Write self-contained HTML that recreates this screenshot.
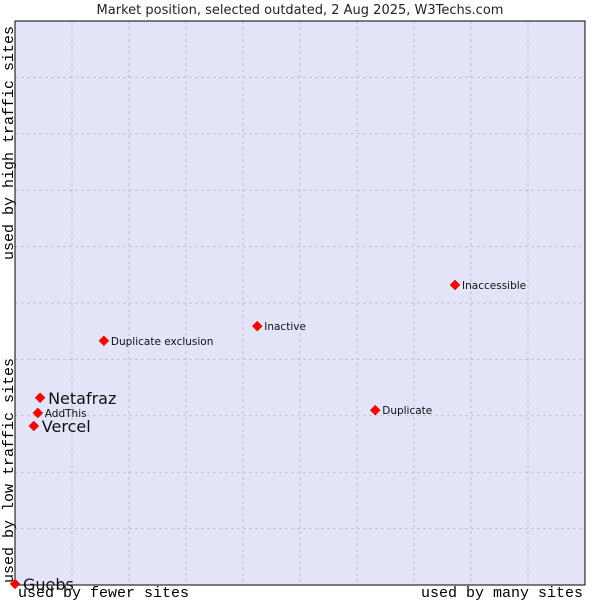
<!DOCTYPE html>
<html><head><meta charset="utf-8"><style>
body{margin:0;background:#fff}
svg text{font-family:"DejaVu Sans","Liberation Sans",sans-serif}
.mono{font-family:"Liberation Mono","DejaVu Sans Mono",monospace}
</style></head><body>
<svg id="c" width="600" height="600" xmlns="http://www.w3.org/2000/svg">
<text x="300" y="14" text-anchor="middle" font-size="13" fill="#222">Market position, selected outdated, 2 Aug 2025, W3Techs.com</text>
<rect x="15" y="21" width="570" height="564" fill="#e3e4f8"/>
<g id="grid"></g>
<path d="M15,21V585H585V21H15" fill="none" stroke="#000" stroke-width="1"/>
<text class="mono" x="18" y="597" font-size="15" fill="#000">used by fewer sites</text>
<text class="mono" x="583" y="597" font-size="15" fill="#000" text-anchor="end">used by many sites</text>
<text class="mono" transform="translate(13,583) rotate(-90)" font-size="15" fill="#000">used by low traffic sites</text>
<text class="mono" transform="translate(13,260) rotate(-90)" font-size="15" fill="#000">used by high traffic sites</text>
<g id="pts"></g>
</svg>
<script>
const names=["Guebs","Vercel","AddThis","Netafraz","Duplicate exclusion","Inactive","Duplicate","Inaccessible"];
const xVals=[0,3.3,4.0,4.4,15.6,42.5,63.2,77.2];
const yVals=[0.2,28.2,30.5,33.2,43.3,45.9,31.0,53.2];
const bigLabel=[true,true,false,true,false,false,false,false];
const NS="http://www.w3.org/2000/svg";
const X=v=>15+v*5.7, Y=v=>585-v*5.64;
const grid=document.getElementById('grid');
for(let i=1;i<10;i++){
 const l=document.createElementNS(NS,'line');
 
 
 l.setAttribute('x1',X(i*10));l.setAttribute('x2',X(i*10));l.setAttribute('y1',21);l.setAttribute('y2',585);
 l.setAttribute('stroke','#c0c0c8');l.setAttribute('stroke-dasharray','3,3');grid.appendChild(l);
 const h=document.createElementNS(NS,'line');
 
 
 h.setAttribute('y1',Y(i*10));h.setAttribute('y2',Y(i*10));h.setAttribute('x1',15);h.setAttribute('x2',585);
 h.setAttribute('stroke','#c0c0c8');h.setAttribute('stroke-dasharray','3,3');grid.appendChild(h);
}
const pts=document.getElementById('pts');
names.forEach((n,i)=>{
 const x=X(xVals[i]),y=Y(yVals[i]);
 const p=document.createElementNS(NS,'path');
 
 
 p.setAttribute('d',`M${x-5},${y}L${x},${y-5}L${x+5},${y}L${x},${y+5}Z`);
 p.setAttribute('fill','#f00');p.setAttribute('stroke','#c00');p.setAttribute('stroke-width','0.5');
 pts.appendChild(p);
 const t=document.createElementNS(NS,'text');
 
 
 t.setAttribute('x',x+(bigLabel[i]?8:7));t.setAttribute('y',y+(bigLabel[i]?6:4));
 t.setAttribute('font-size',bigLabel[i]?16:10.5);t.setAttribute('fill','#111');
 t.textContent=n;pts.appendChild(t);
});
</script>
</body></html>
